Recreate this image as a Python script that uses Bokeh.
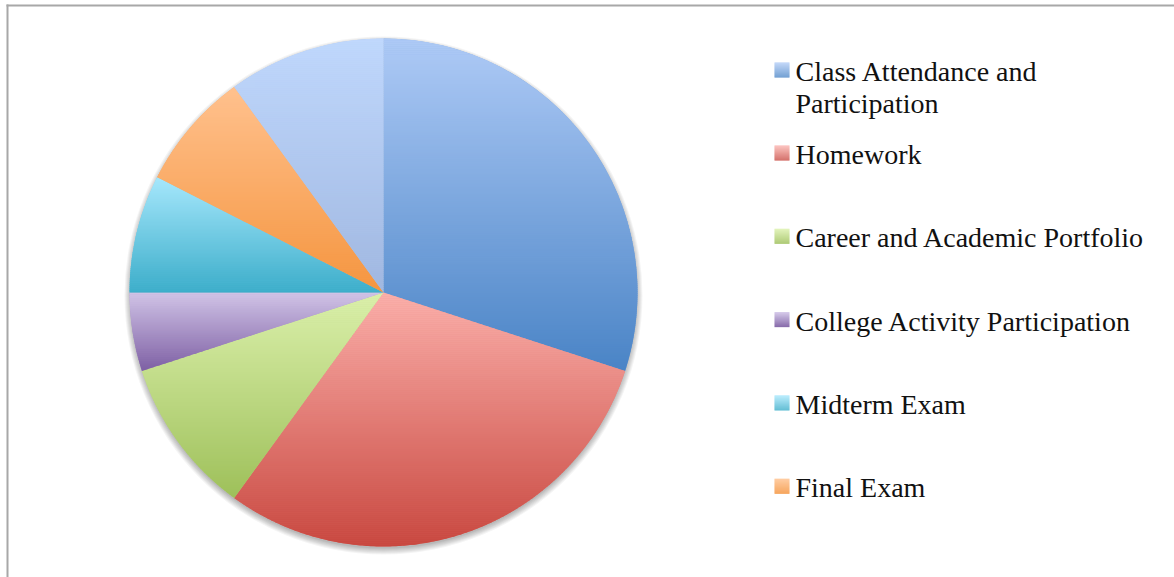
import numpy as np
from bokeh.plotting import figure
from bokeh.models import Range1d, ColumnDataSource
from bokeh.core.properties import value
from bokeh.embed import file_html
from bokeh.resources import INLINE

# ---------------- data ----------------
categories = [
    "Class Attendance and\nParticipation",
    "Homework",
    "Career and Academic Portfolio",
    "College Activity Participation",
    "Midterm Exam",
    "Final Exam",
    "",  # 7th slice: not shown in the legend
]
shares = [30, 30, 10, 5, 7.5, 7.5, 10]
top_colors = ["#aecaf6", "#fbb0ab", "#dbf0ab", "#d1c4e7", "#a7e7fc", "#ffc18e", "#c0d8fd"]
bottom_colors = ["#4a84c6", "#c8473f", "#9ec05a", "#7e60a4", "#3caeca", "#f5953f", "#a0b7e0"]

# ---------------- layout ----------------
W, H = 1174, 577


def py(y):
    return H - y  # page pixel row -> data y


def hex2rgb(h):
    h = h.lstrip("#")
    return np.array([int(h[i:i + 2], 16) for i in (0, 2, 4)], dtype=float)


def mix(c0, c1, t):
    a, b = hex2rgb(c0), hex2rgb(c1)
    c = np.clip(np.round(a + (b - a) * t), 0, 255).astype(int)
    return "#%02x%02x%02x" % tuple(c)


def clip(pts, y0, keep_above):
    out = []
    n = len(pts)
    for j in range(n):
        x1, y1 = pts[j]
        x2, y2 = pts[(j + 1) % n]
        in1 = y1 >= y0 if keep_above else y1 <= y0
        in2 = y2 >= y0 if keep_above else y2 <= y0
        if in1:
            out.append((x1, y1))
        if in1 != in2:
            t = (y0 - y1) / (y2 - y1)
            out.append((x1 + t * (x2 - x1), y0))
    return out


p = figure(width=W, height=H, x_range=Range1d(0, W), y_range=Range1d(0, H),
           output_backend="svg", toolbar_location=None, min_border=0)
p.axis.visible = False
p.grid.visible = False
p.outline_line_color = None
p.background_fill_color = "white"
p.border_fill_color = "white"

# chart frame (top and left edges visible, the rest is cut off)
p.segment(x0=[6, 7], y0=[py(5), py(4)], x1=[W, 7], y1=[py(5), py(H)],
          line_color="#a8a8a8", line_width=2)

cx, cy, r = 383, py(292), 254

# soft shadow
for k in range(7):
    p.circle(x=cx, y=cy - 3, radius=r - 1 + k, fill_color="black", fill_alpha=0.045, line_color=None)

frac = np.array(shares, dtype=float) / sum(shares)
cum = np.concatenate([[0.0], np.cumsum(frac)])
start = np.pi / 2 - cum[1:] * 2 * np.pi
end = np.pi / 2 - cum[:-1] * 2 * np.pi

src = ColumnDataSource(dict(
    start=start, end=end, cat=categories,
    color=[mix(a, b, 0.5) for a, b in zip(top_colors, bottom_colors)],
))
p.wedge(x=cx, y=cy, radius=r, start_angle="start", end_angle="end",
        fill_color="color", line_color=None, source=src)

# vertical gradient of each slice, drawn as horizontal bands of the slice
bxs, bys, bcol = [], [], []
for i in range(len(shares)):
    ang = np.linspace(start[i], end[i], 240)
    pts = [(cx, cy)] + [(cx + r * np.cos(a), cy + r * np.sin(a)) for a in ang]
    ys = [q[1] for q in pts]
    ymax, ymin = max(ys), min(ys)
    nb = int(np.ceil((ymax - ymin) / 2.0))
    edges = np.linspace(ymax, ymin, nb + 1)
    for k in range(nb):
        yhi, ylo = edges[k], edges[k + 1]
        poly = clip(clip(pts, ylo - 0.3, True), yhi + 0.3, False)
        if len(poly) < 3:
            continue
        t = (ymax - (yhi + ylo) / 2) / (ymax - ymin)
        bxs.append([q[0] for q in poly])
        bys.append([q[1] for q in poly])
        bcol.append(mix(top_colors[i], bottom_colors[i], t))
p.patches(xs=bxs, ys=bys, fill_color=bcol, line_color=None)

# legend (manual, to keep the original wrapping and spacing)
tx, ty, tt = [], [], []
ql, qr, qt, qb, qc = [], [], [], [], []
for i, name in enumerate(categories):
    if not name:
        continue
    base = 80 if i == 0 else 163 + (i - 1) * 83.3
    for j, line in enumerate(name.split("\n")):
        tx.append(795)
        ty.append(py(base - 9 + 32 * j))
        tt.append(line)
    top = base - 18
    for k in range(15):
        ql.append(774)
        qr.append(789)
        qt.append(py(top + k))
        qb.append(py(top + k + 1.05))
        qc.append(mix(top_colors[i], bottom_colors[i], k / 14))
p.quad(left=ql, right=qr, top=qt, bottom=qb, fill_color=qc, line_color=None)
p.text(x=tx, y=ty, text=tt, text_font=value("Liberation Serif"), text_font_size="28px",
       text_baseline="alphabetic", text_align="left", text_color="#111111")

open("out.html", "w").write(file_html(p, INLINE))
